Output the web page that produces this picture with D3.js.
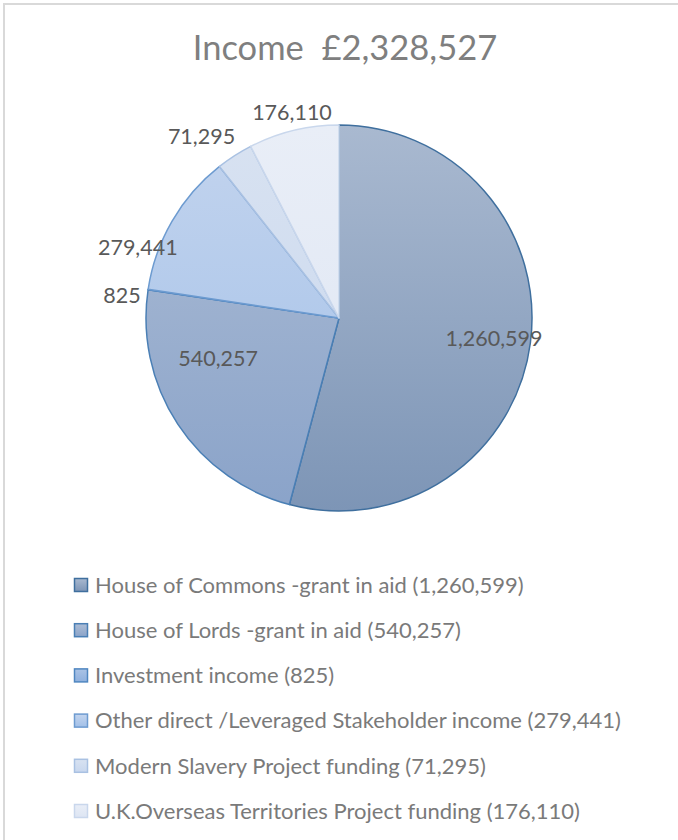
<!DOCTYPE html>
<html><head><meta charset="utf-8">
<script src="https://cdn.jsdelivr.net/npm/d3@7"></script>
<style>body{margin:0;background:#fff;}svg{display:block;font-family:Lato,"Open Sans",sans-serif;}</style>
</head><body>
<svg id="c" width="678" height="840"></svg>
<script>
const categories = ["House of Commons -grant in aid","House of Lords -grant in aid","Investment income","Other direct /Leveraged Stakeholder income","Modern Slavery Project funding","U.K.Overseas Territories Project funding"];
const values = [1260599, 540257, 825, 279441, 71295, 176110];
const titleText = "Income  £2,328,527";
// gradient top/bottom colours and stroke per slice
const topColors = ["#a9b9d0","#adbdd5","#aac3e5","#c3d4ee","#d8e2f1","#e9eef7"];
const botColors = ["#7d95b6","#8aa3c9","#8fb0de","#a2c0e8","#c8d7ee","#dde5f3"];
const strokeColors = ["#3f6f9e","#4a7fb5","#4f86c0","#6d9bd0","#a9c1e2","#c9d7ec"];
// label placement: radius (fraction of pie radius) and angle nudge (deg)
const labelR = [0.81, 0.66, 1.13, 1.105, 1.18, 1.09];
const labelNudge = [0, 15, -2.6, -10.8, -4.4, 0.7];

const svg = d3.select("#c");
const cx = 339, cy = 318, R = 193;
const fmt = d3.format(",");

svg.append("line").attr("x1",3).attr("x2",678).attr("y1",4).attr("y2",4).attr("stroke","#d9d9d9").attr("stroke-width",2);
svg.append("line").attr("x1",4).attr("x2",4).attr("y1",3).attr("y2",840).attr("stroke","#d9d9d9").attr("stroke-width",2);

const defs = svg.append("defs");
categories.forEach((c,i)=>{
  const g = defs.append("linearGradient").attr("id","g"+i).attr("gradientUnits","userSpaceOnUse")
    .attr("x1",0).attr("y1",-R).attr("x2",0).attr("y2",R);
  g.append("stop").attr("offset","0").attr("stop-color",topColors[i]);
  g.append("stop").attr("offset","1").attr("stop-color",botColors[i]);
  const lg = defs.append("linearGradient").attr("id","lg"+i).attr("x1",0).attr("y1",0).attr("x2",0).attr("y2",1);
  lg.append("stop").attr("offset","0").attr("stop-color",topColors[i]);
  lg.append("stop").attr("offset","1").attr("stop-color",botColors[i]);
});

svg.append("text").attr("x",cx+6).attr("y",60).attr("text-anchor","middle")
  .attr("font-size",34.5).attr("fill","#7f7f7f").style("white-space","pre").text(titleText);

const pie = d3.pie().sort(null).value(d=>d)(values);
const arc = d3.arc().innerRadius(0).outerRadius(R);
const g = svg.append("g").attr("transform",`translate(${cx},${cy})`);
g.selectAll("path").data(pie).join("path").attr("d",arc)
  .attr("fill",(d,i)=>`url(#g${i})`).attr("stroke",(d,i)=>strokeColors[i]).attr("stroke-width",1.5).attr("stroke-linejoin","round");

g.selectAll("text.lab").data(pie).join("text").attr("class","lab")
  .attr("x",(d,i)=>{const a=(d.startAngle+d.endAngle)/2+labelNudge[i]*Math.PI/180;return Math.sin(a)*R*labelR[i];})
  .attr("y",(d,i)=>{const a=(d.startAngle+d.endAngle)/2+labelNudge[i]*Math.PI/180;return -Math.cos(a)*R*labelR[i];})
  .attr("dy","0.35em").attr("text-anchor","middle").attr("font-size",21.5).attr("fill","#595959")
  .text(d=>fmt(d.data));

const leg = svg.append("g");
const rows = leg.selectAll("g").data(categories).join("g").attr("transform",(d,i)=>`translate(74,${585+i*45.2})`);
rows.append("rect").attr("x",0.5).attr("y",-6.5).attr("width",13).attr("height",13)
  .attr("fill",(d,i)=>`url(#lg${i})`).attr("stroke",(d,i)=>strokeColors[i]).attr("stroke-width",1.5);
rows.append("text").attr("x",21).attr("dy","0.35em").attr("font-size",22).attr("fill","#7a7a7a")
  .text((d,i)=>`${d} (${fmt(values[i])})`);
</script>
</body></html>
